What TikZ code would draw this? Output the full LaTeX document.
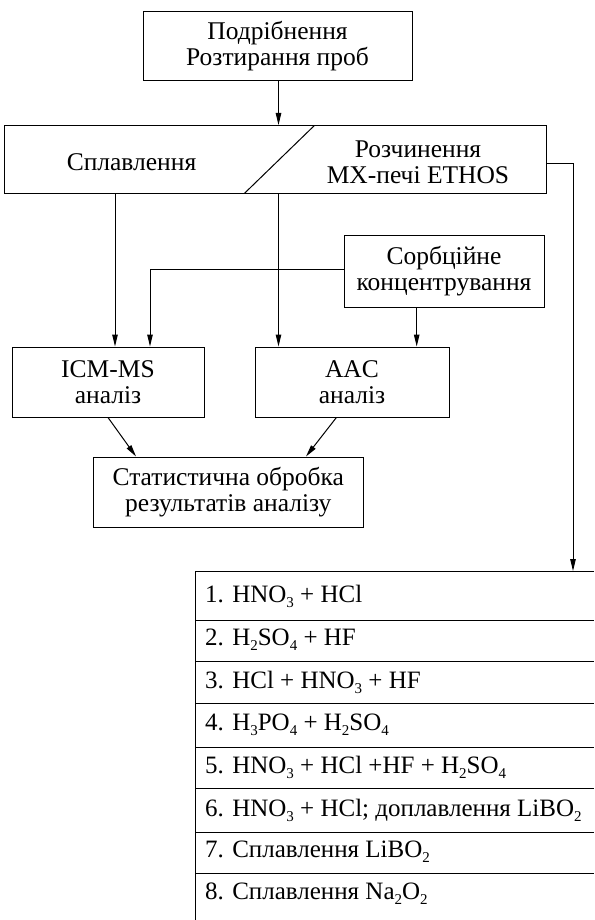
\documentclass[tikz,border=0pt]{standalone}
\usepackage{fontspec}
\setmainfont{Liberation Serif}
\usetikzlibrary{arrows.meta,calc}
\newcommand{\chs}[1]{\raisebox{-5pt}{\fontsize{15}{15}\selectfont #1}}
\begin{document}
\begin{tikzpicture}[x=1pt,y=-1pt,
  box/.style={draw,line width=1pt,rectangle,align=center,inner sep=0pt},
  txt/.style={align=center,inner sep=0pt},
  row/.style={anchor=west,inner sep=0pt,font=\fontsize{25}{26}\selectfont},
  arr/.style={line width=1pt,-{Triangle[length=12pt,width=5.5pt]}},
  ln/.style={line width=1pt},
  every node/.append style={font=\fontsize{25.5}{26}\selectfont}]
\useasboundingbox (0,0) rectangle (594,920);
\node[box,minimum width=269pt,minimum height=69pt] (top) at (277.5,46.5) {Подрібнення\\Розтирання проб};
\node[box,minimum width=542pt,minimum height=68pt] (big) at (275,159.5) {};
\draw[ln] (314.4,125.5) -- (244.3,193.5);
\node[txt] (splav) at (131.5,162) {Сплавлення};
\node[txt] (rozch) at (418,162) {Розчинення\\МХ-печі ETHOS};
\node[box,minimum width=200pt,minimum height=72pt] (sorb) at (444,271) {Сорбційне\\концентрування};
\node[box,minimum width=192pt,minimum height=70pt] (icm) at (108,382) {ICM-MS\\аналіз};
\node[box,minimum width=194pt,minimum height=70pt] (aac) at (352,382) {AAC\\аналіз};
\node[box,minimum width=270.6pt,minimum height=70pt] (stat) at (228.3,492) {Статистична обробка\\результатів аналізу};
% table
\coordinate (tabtop) at (573,571);
\draw[ln] (594,571) -- (195,571) -- (195,920);
\foreach \yy in {620,661,703,747,788,832,873} \draw[ln] (195,\yy) -- (594,\yy);
\node[row] (r1) at (205,596) {1. HNO\chs{3} + HCl};
\node[row] (r2) at (205,640) {2. H\chs{2}SO\chs{4} + HF};
\node[row] (r3) at (205,682) {3. HCl + HNO\chs{3} + HF};
\node[row] (r4) at (205,725) {4. H\chs{3}PO\chs{4} + H\chs{2}SO\chs{4}};
\node[row] (r5) at (205,767) {5. HNO\chs{3} + HCl +HF + H\chs{2}SO\chs{4}};
\node[row] (r6) at (205,810) {6. HNO\chs{3} + HCl; доплавлення LiBO\chs{2}};
\node[row] (r7) at (205,852) {7. Сплавлення LiBO\chs{2}};
\node[row] (r8) at (205,894) {8. Сплавлення Na\chs{2}O\chs{2}};
% connectors
\coordinate (c1) at (115,0);
\coordinate (c2) at (278.5,0);
\coordinate (c3) at (416.7,0);
\coordinate (c4) at (150,0);
\draw[arr] (top.south -| c2) -- (big.north -| c2);
\draw[arr] (big.south -| c1) -- (icm.north -| c1);
\draw[arr] (big.south -| c2) -- (aac.north -| c2);
\draw[arr] (sorb.south -| c3) -- (aac.north -| c3);
\draw[arr] ($(sorb.west)+(0,-2)$) -| (icm.north -| c4);
\draw[arr] (icm.south) -- ($(stat.north)+(-92.3,0)$);
\draw[arr] ($(aac.south)+(-15.6,0)$) -- ($(stat.north)+(77.7,0)$);
\draw[arr] ($(big.east)+(0,4.5)$) -| (tabtop);
\end{tikzpicture}
\end{document}
